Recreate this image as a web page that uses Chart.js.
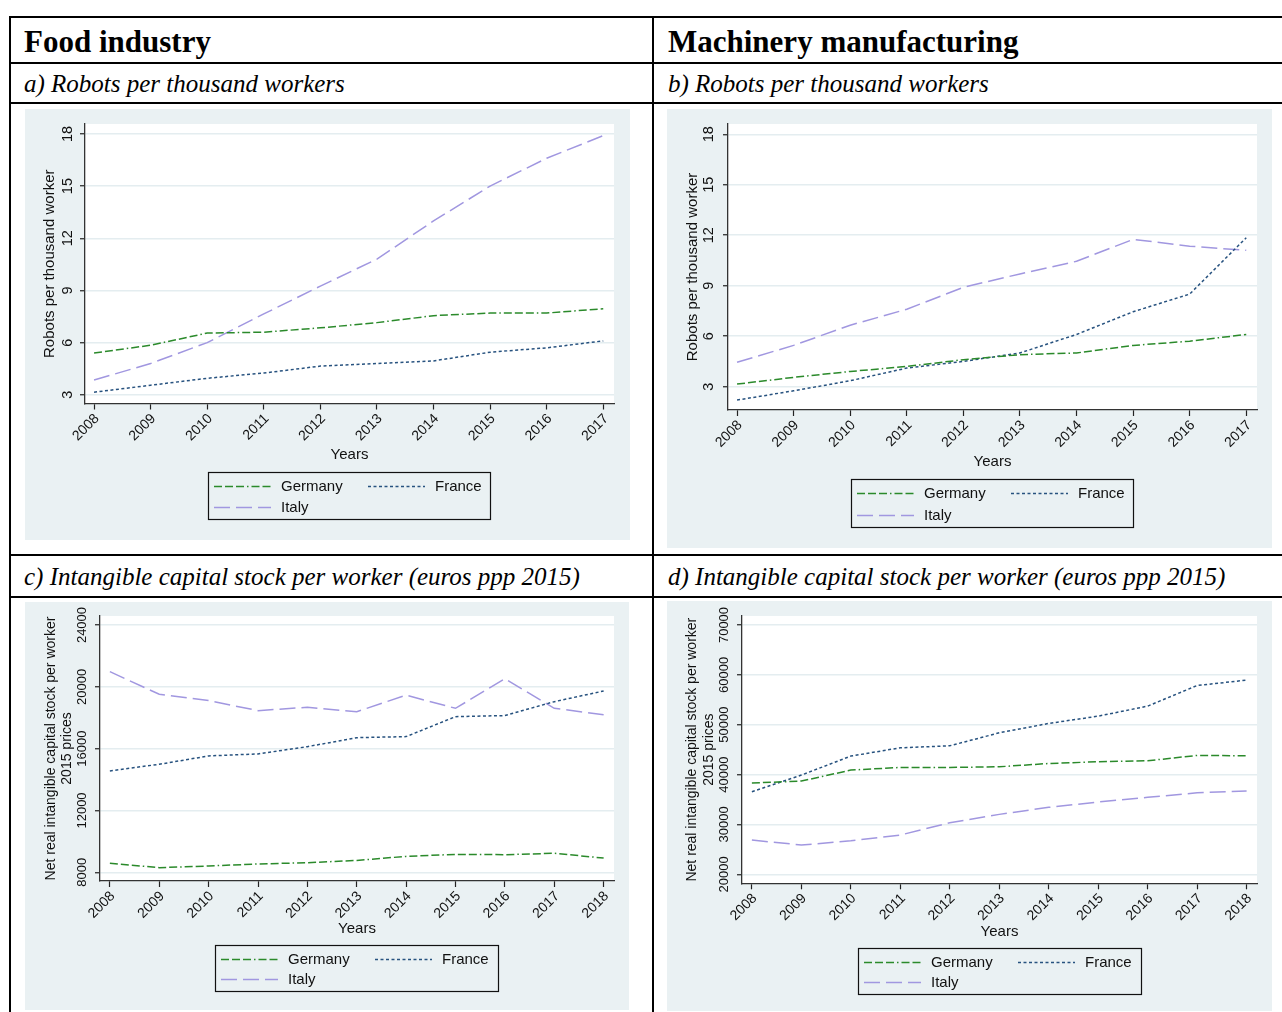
<!DOCTYPE html>
<html>
<head>
<meta charset="utf-8">
<script src="https://cdn.jsdelivr.net/npm/chart.js@4/dist/chart.umd.min.js"></script>
<style>
body { margin: 0; width: 1282px; height: 1012px; overflow: hidden; background: #fff; position: relative; }
.hl { position: absolute; left: 9px; width: 1273px; height: 2px; background: #000; }
.vl { position: absolute; top: 16px; height: 996px; width: 2px; background: #000; }
.head { position: absolute; font-family: "Liberation Serif", serif; font-weight: bold; font-size: 31px; line-height: 31px; white-space: nowrap; }
.sub { position: absolute; font-family: "Liberation Serif", serif; font-style: italic; font-size: 25px; line-height: 25px; white-space: nowrap; }
canvas { position: absolute; background: #eaf1f3; }
</style>
</head>
<body>
<div class="hl" style="top:16px"></div>
<div class="hl" style="top:62px"></div>
<div class="hl" style="top:102px"></div>
<div class="hl" style="top:554px"></div>
<div class="hl" style="top:596px"></div>
<div class="vl" style="left:9px"></div>
<div class="vl" style="left:652px"></div>

<div class="head" style="left:24px;top:26px">Food industry</div>
<div class="head" style="left:668px;top:26px">Machinery manufacturing</div>
<div class="sub" style="left:24px;top:71px">a) Robots per thousand workers</div>
<div class="sub" style="left:668px;top:71px">b) Robots per thousand workers</div>
<div class="sub" style="left:24px;top:564px">c) Intangible capital stock per worker (euros ppp 2015)</div>
<div class="sub" style="left:668px;top:564px">d) Intangible capital stock per worker (euros ppp 2015)</div>

<canvas id="chart_a" width="605" height="431" style="left:25px;top:109px"></canvas>
<canvas id="chart_b" width="605" height="439" style="left:667px;top:109px"></canvas>
<canvas id="chart_c" width="604" height="408" style="left:25px;top:602px"></canvas>
<canvas id="chart_d" width="605" height="410" style="left:667px;top:601px"></canvas>

<script>
// years on the x axis
const robot_years = [2008, 2009, 2010, 2011, 2012, 2013, 2014, 2015, 2016, 2017]
const capital_years = [2008, 2009, 2010, 2011, 2012, 2013, 2014, 2015, 2016, 2017, 2018]

// y tick values
const robot_ticks = [3, 6, 9, 12, 15, 18]
const food_capital_ticks = [8000, 12000, 16000, 20000, 24000]
const mach_capital_ticks = [20000, 30000, 40000, 50000, 60000, 70000]

const series_names = ["Germany", "France", "Italy"]

// robots per thousand workers
const food_robots_germany = [5.4, 5.85, 6.55, 6.6, 6.85, 7.15, 7.55, 7.7, 7.7, 7.95]
const food_robots_france = [3.15, 3.55, 3.95, 4.25, 4.65, 4.8, 4.95, 5.45, 5.7, 6.1]
const food_robots_italy = [3.85, 4.8, 6.0, 7.65, 9.25, 10.8, 13.0, 15.0, 16.6, 17.9]

const mach_robots_germany = [3.15, 3.55, 3.9, 4.2, 4.6, 4.9, 5.0, 5.45, 5.7, 6.1]
const mach_robots_france = [2.2, 2.75, 3.35, 4.1, 4.5, 5.0, 6.1, 7.45, 8.5, 11.85]
const mach_robots_italy = [4.45, 5.45, 6.65, 7.6, 8.9, 9.7, 10.45, 11.75, 11.35, 11.1]

// net real intangible capital stock per worker, 2015 prices
const food_capital_germany = [8580, 8300, 8410, 8540, 8620, 8770, 9030, 9160, 9140, 9230, 8920]
const food_capital_france = [14560, 14990, 15530, 15660, 16130, 16710, 16780, 18070, 18140, 19040, 19730]
const food_capital_italy = [20980, 19520, 19110, 18460, 18680, 18390, 19460, 18610, 20530, 18610, 18200]

const mach_capital_germany = [38300, 38700, 40900, 41440, 41440, 41560, 42230, 42570, 42770, 43840, 43770]
const mach_capital_france = [36550, 39900, 43710, 45370, 45770, 48380, 50260, 51720, 53730, 57870, 58940]
const mach_capital_italy = [26870, 25870, 26730, 27880, 30340, 32020, 33430, 34490, 35430, 36350, 36700]

const line_styles = {
    Germany: { color: "#2b8a2b", dash: [8, 3, 8, 3, 8, 3, 1.5, 3] },
    France: { color: "#27527f", dash: [3, 2.5] },
    Italy: { color: "#a197e0", dash: [16, 6] },
}

const sans = '"Liberation Sans", Arial, sans-serif'

// white plot region behind the lines
const plot_bg = {
    id: "plot_bg",
    beforeDraw(chart) {
        const a = chart.chartArea
        const ctx = chart.ctx
        ctx.save()
        ctx.fillStyle = "#ffffff"
        ctx.fillRect(a.left, a.top, a.right - a.left, a.bottom - a.top)
        ctx.restore()
    }
}

// y tick labels written vertically, centred on each tick
const y_labels = {
    id: "y_labels",
    afterDraw(chart, args, opts) {
        const s = chart.scales.y
        const ctx = chart.ctx
        ctx.save()
        ctx.font = opts.size + "px " + sans
        ctx.fillStyle = "#111"
        ctx.textAlign = "center"
        ctx.textBaseline = "middle"
        s.ticks.forEach(t => {
            ctx.save()
            ctx.translate(opts.x, s.getPixelForValue(t.value))
            ctx.rotate(-Math.PI / 2)
            ctx.fillText(String(t.value), 0, 0)
            ctx.restore()
        })
        ctx.restore()
    }
}

// boxed two-column legend under the axis
const box_legend = {
    id: "box_legend",
    afterDraw(chart, args, opts) {
        const ctx = chart.ctx
        ctx.save()
        ctx.strokeStyle = "#111"
        ctx.lineWidth = 1.2
        ctx.strokeRect(opts.x + 0.5, opts.y + 0.5, opts.w, opts.h)
        ctx.font = "15px " + sans
        ctx.textBaseline = "middle"
        ctx.fillStyle = "#111"
        chart.data.datasets.forEach((ds, i) => {
            const col = i % 2
            const row = Math.floor(i / 2)
            const x0 = opts.x + (col ? 160 : 6)
            const y0 = row ? opts.y + opts.h - 11.5 : opts.y + 14.5
            ctx.save()
            ctx.strokeStyle = ds.borderColor
            ctx.lineWidth = 1.5
            ctx.setLineDash(ds.borderDash)
            ctx.beginPath()
            ctx.moveTo(x0, y0)
            ctx.lineTo(x0 + 57, y0)
            ctx.stroke()
            ctx.restore()
            ctx.fillText(ds.label, x0 + 67, y0)
        })
        ctx.restore()
    }
}

function make_chart(id, p) {
    const datasets = p.series.map((vals, i) => {
        const name = series_names[i]
        return {
            label: name,
            data: p.years.map((yr, j) => ({ x: yr, y: vals[j] })),
            borderColor: line_styles[name].color,
            borderDash: line_styles[name].dash,
            borderWidth: 1.5,
            pointRadius: 0,
            fill: false,
            tension: 0,
        }
    })
    return new Chart(document.getElementById(id), {
        type: "line",
        data: { datasets: datasets },
        options: {
            responsive: false,
            animation: false,
            devicePixelRatio: 1,
            layout: { padding: { left: 0, top: p.top, right: p.right, bottom: 0 } },
            plugins: {
                legend: { display: false },
                tooltip: { enabled: false },
                y_labels: { x: p.tick_x, size: p.tick_size },
                box_legend: p.legend,
            },
            scales: {
                x: {
                    type: "linear",
                    min: p.x_min,
                    max: p.x_max,
                    afterBuildTicks: s => { s.ticks = p.years.map(v => ({ value: v })) },
                    afterFit: s => { s.height = p.x_height },
                    ticks: {
                        autoSkip: false,
                        minRotation: 45,
                        maxRotation: 45,
                        padding: 1,
                        labelOffset: 3,
                        color: "#111",
                        font: { family: sans, size: 14 },
                        callback: v => String(v),
                    },
                    grid: { display: true, drawOnChartArea: false, drawTicks: true, tickLength: 6, tickColor: "#222", tickWidth: 1.2 },
                    border: { color: "#333", width: 1.3 },
                    title: {
                        display: true,
                        text: "Years",
                        color: "#111",
                        font: { family: sans, size: 15, lineHeight: 1.2 },
                        padding: { top: 0, bottom: p.years_pad },
                    },
                },
                y: {
                    min: p.y_min,
                    max: p.y_max,
                    afterBuildTicks: s => { s.ticks = p.y_ticks.map(v => ({ value: v })) },
                    afterFit: s => { s.width = p.y_width },
                    ticks: { display: false },
                    grid: { color: "#e4edf0", lineWidth: 1.5, tickLength: 5, tickColor: "#222", tickWidth: 1.2 },
                    border: { color: "#333", width: 1.3 },
                    title: {
                        display: true,
                        text: p.y_title,
                        color: "#111",
                        font: { family: sans, size: p.title_size, lineHeight: p.title_lh },
                        padding: { top: p.title_pad, bottom: 0 },
                    },
                },
            },
        },
        plugins: [plot_bg, y_labels, box_legend],
    })
}

const capital_title = ["Net real intangible capital stock per worker", "2015 prices"]

make_chart("chart_a", {
    years: robot_years,
    series: [food_robots_germany, food_robots_france, food_robots_italy],
    x_min: 2007.84, x_max: 2017.19,
    y_min: 2.5, y_max: 18.57, y_ticks: robot_ticks,
    top: 15, right: 16, y_width: 60, x_height: 136.5,
    tick_x: 43.3, tick_size: 14.5,
    y_title: "Robots per thousand worker", title_size: 15, title_lh: 1.2, title_pad: 16,
    years_pad: 76,
    legend: { x: 183, y: 363, w: 282, h: 47 },
})

make_chart("chart_b", {
    years: robot_years,
    series: [mach_robots_germany, mach_robots_france, mach_robots_italy],
    x_min: 2007.84, x_max: 2017.19,
    y_min: 1.61, y_max: 18.61, y_ticks: robot_ticks,
    top: 15, right: 15, y_width: 61, x_height: 138,
    tick_x: 42, tick_size: 14.5,
    y_title: "Robots per thousand worker", title_size: 15, title_lh: 1.2, title_pad: 16.5,
    years_pad: 77,
    legend: { x: 184, y: 370, w: 282, h: 48 },
})

make_chart("chart_c", {
    years: capital_years,
    series: [food_capital_germany, food_capital_france, food_capital_italy],
    x_min: 2007.8, x_max: 2018.21,
    y_min: 7437, y_max: 24583, y_ticks: food_capital_ticks,
    top: 14, right: 15, y_width: 75, x_height: 129,
    tick_x: 57.5, tick_size: 13,
    y_title: capital_title, title_size: 14, title_lh: 1.15, title_pad: 18,
    years_pad: 72,
    legend: { x: 190, y: 343, w: 283, h: 46 },
})

make_chart("chart_d", {
    years: capital_years,
    series: [mach_capital_germany, mach_capital_france, mach_capital_italy],
    x_min: 2007.8, x_max: 2018.21,
    y_min: 18196, y_max: 71804, y_ticks: mach_capital_ticks,
    top: 15, right: 15, y_width: 75, x_height: 127.7,
    tick_x: 57.5, tick_size: 13,
    y_title: capital_title, title_size: 14, title_lh: 1.15, title_pad: 17.5,
    years_pad: 70,
    legend: { x: 191, y: 347, w: 283, h: 46 },
})
</script>
</body>
</html>
